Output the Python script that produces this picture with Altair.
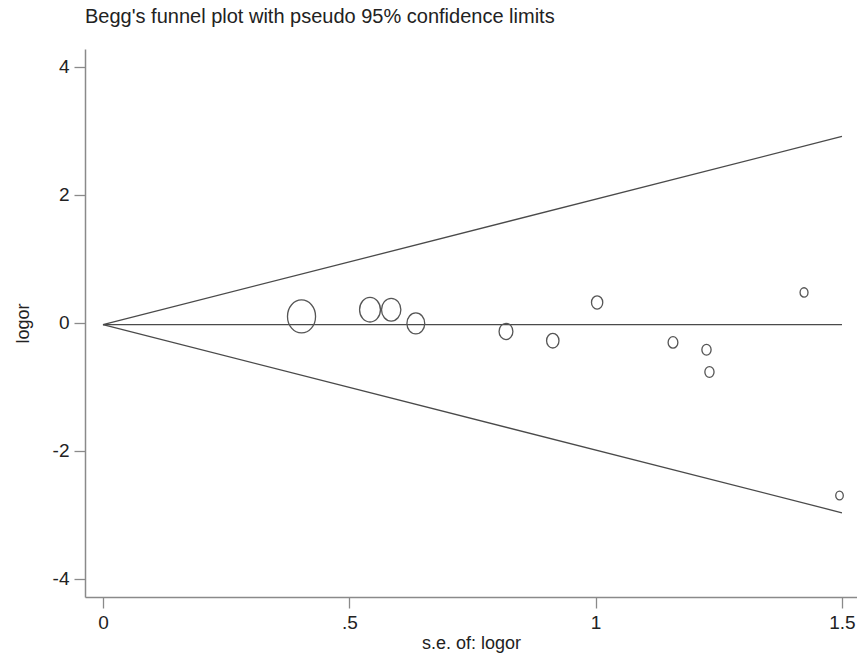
import altair as alt
import pandas as pd

# Study data
se = [0.403, 0.542, 0.585, 0.635, 0.818, 0.913, 1.003, 1.157, 1.225, 1.231, 1.423, 1.495]
logor = [0.098, 0.203, 0.203, -0.011, -0.136, -0.281, 0.317, -0.308, -0.422, -0.770, 0.473, -2.70]

pooled = -0.03          # pooled estimate (horizontal line)
se_max = 1.5            # funnel drawn out to this s.e.
z = 1.96                # pseudo 95% limits

x_ticks = [0, 0.5, 1, 1.5]
y_ticks = [-4, -2, 0, 2, 4]
x_domain = [-0.0365, 1.5305]
y_domain = [-4.286, 4.277]

pts = pd.DataFrame({"se": se, "logor": logor})

lines = pd.DataFrame({
    "se": [0, se_max, 0, se_max, 0, se_max],
    "logor": [pooled, pooled + z * se_max,
              pooled, pooled,
              pooled, pooled - z * se_max],
    "which": ["upper", "upper", "center", "center", "lower", "lower"],
})

FONT = "Liberation Sans"
ELLIPSE = ("M0,-1C0.4695,-1,0.85,-0.5523,0.85,0C0.85,0.5523,0.4695,1,0,1"
           "C-0.4695,1,-0.85,0.5523,-0.85,0C-0.85,-0.5523,-0.4695,-1,0,-1Z")

x_enc = alt.X("se:Q", scale=alt.Scale(domain=x_domain, nice=False, zero=False),
              axis=alt.Axis(values=x_ticks, title="s.e. of: logor", format=".1~f",
                            labelExpr="datum.value == 0.5 ? '.5' : datum.label",
                            titlePadding=2))
y_enc = alt.Y("logor:Q", scale=alt.Scale(domain=y_domain, nice=False, zero=False),
              axis=alt.Axis(values=y_ticks, title="logor",
                            labelExpr="'' + datum.value", titlePadding=20))

funnel = alt.Chart(lines).mark_line(color="#4a4a4a", strokeWidth=1.3).encode(
    x=x_enc, y=y_enc, detail="which:N"
)

points = alt.Chart(pts).transform_calculate(
    weight="1 / (datum.se * datum.se)"
).mark_point(shape=ELLIPSE, filled=False, color="#555555", strokeWidth=1.3, opacity=1).encode(
    x="se:Q",
    y="logor:Q",
    size=alt.Size("weight:Q", scale=alt.Scale(domain=[0, 10], range=[0, 1770], zero=True),
                  legend=None),
)

chart = alt.layer(funnel, points).properties(
    width=772,
    height=548,
    padding={"left": 85, "top": 49, "right": 0, "bottom": 57},
    autosize=alt.AutoSizeParams(type="none"),
    background="white",
    title=alt.TitleParams(
        text="Begg's funnel plot with pseudo 95% confidence limits",
        anchor="start", frame="group", baseline="alphabetic", offset=6,
        font=FONT, fontSize=20, fontWeight="normal", color="#222222",
    ),
).configure_view(stroke=None).configure_axis(
    grid=False,
    domainColor="#8a8a8a", domainWidth=1.5,
    tickColor="#8a8a8a", tickWidth=1.3, tickSize=11,
    labelFont=FONT, labelFontSize=19, labelColor="#222222", labelPadding=5,
    titleFont=FONT, titleFontSize=18, titleFontWeight="normal", titleColor="#222222",
)

chart.save("out.html", embed_options={"renderer": "svg", "actions": False})
